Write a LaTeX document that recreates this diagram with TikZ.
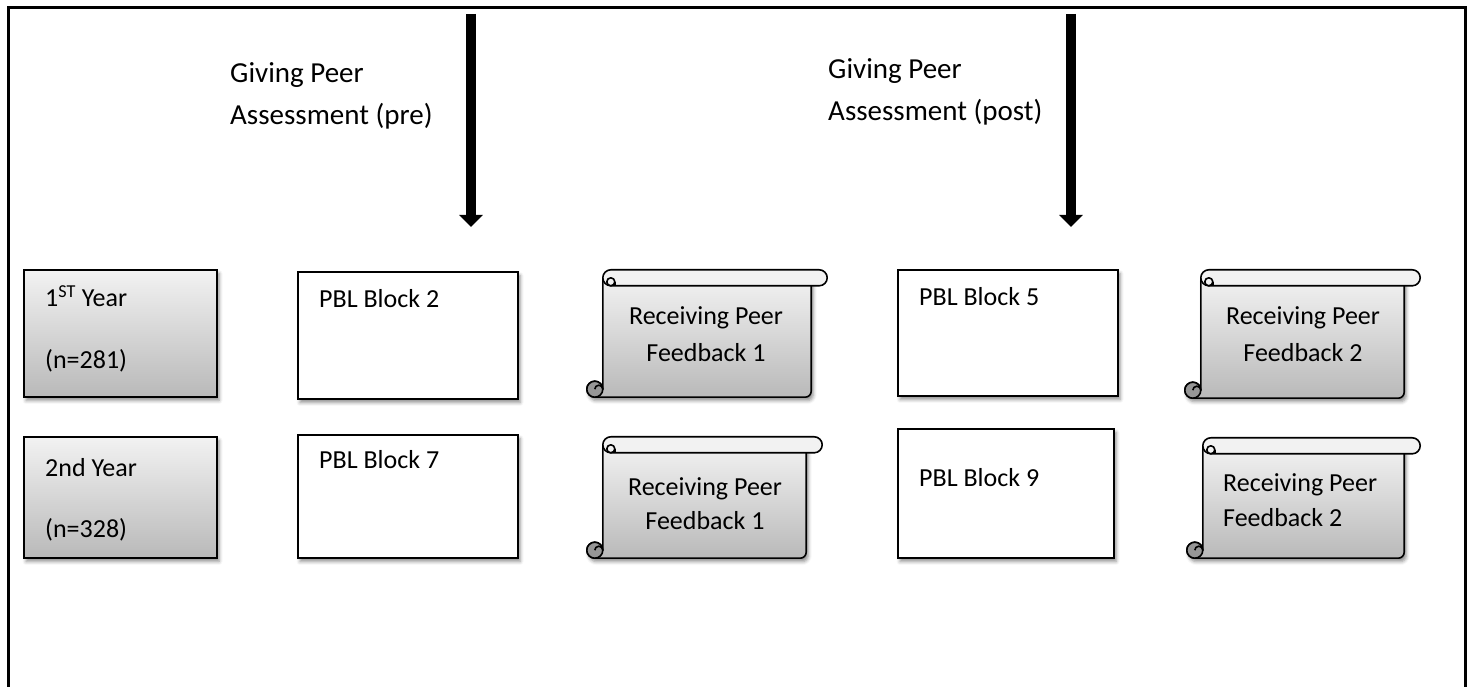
\documentclass[tikz,border=0pt]{standalone}
\usepackage{fontspec}
\setmainfont{Carlito}
\usetikzlibrary{arrows.meta,shadows.blur,calc}
\definecolor{gtop}{RGB}{242,242,242}
\definecolor{gbot}{RGB}{185,185,185}
\definecolor{curlc}{RGB}{150,150,150}
\tikzset{
  shad/.style={blur shadow={shadow xshift=2pt,shadow yshift=-3.5pt,shadow blur radius=3.5pt,shadow opacity=45}},
  box/.style={draw=black, line width=1.6pt, fill=white, shad, inner sep=0pt},
  graybox/.style={box, top color=gtop, bottom color=gbot},
  holder/.style={inner sep=0pt},
  scrollline/.style={draw=black, line width=1.6pt, line join=round},
  txt/.style={font=\fontsize{26}{38}\selectfont, inner sep=0pt},
  lbl/.style={font=\fontsize{29}{42}\selectfont, inner sep=0pt},
  bigarrow/.style={line width=10pt, -{Triangle[width=23pt,length=12pt]}},
  frameline/.style={line width=3pt},
}
\newcommand\scrollshape[1]{%
  \coordinate (#1-nw) at (#1.north west);
  \coordinate (#1-ne) at (#1.north east);
  \coordinate (#1-sw) at (#1.south west);
  \coordinate (#1-se) at (#1.south east);
  \draw[scrollline, top color=gtop, bottom color=gbot, shad]
    ($(#1-nw)+(16,-8)$) -- ($(#1-sw)+(16,8)$) arc[start angle=0,end angle=270,radius=8]
    -- ($(#1-se)+(-22,0)$) arc[start angle=270,end angle=360,radius=6]
    -- ($(#1-ne)+(-16,-8)$) -- cycle;
  \draw[scrollline, fill=gtop]
    ($(#1-nw)+(24,0)$) -- ($(#1-ne)+(-8,0)$) arc[start angle=90,end angle=-90,radius=8]
    -- ($(#1-nw)+(24,-16)$) arc[start angle=270,end angle=90,radius=8] -- cycle;
  \draw[scrollline, fill=gtop] ($(#1-nw)+(24,-12)$) circle[radius=4];
  \draw[scrollline] ($(#1-nw)+(28,-12)$) -- ($(#1-nw)+(28,-16)$);
  \draw[scrollline, fill=curlc] ($(#1-sw)+(8,8)$) circle[radius=8];
  \draw[scrollline] ($(#1-sw)+(16,8)$) arc[start angle=0,end angle=180,radius=4];
}
\begin{document}
\begin{tikzpicture}[x=1pt,y=1pt]
\useasboundingbox (0,0) rectangle (1474,687);
% frame
\draw[frameline] (8,-2) -- (8,679) -- (1465,679) -- (1465,-2);

% arrows
\coordinate (a1s) at (471,673); \coordinate (a1e) at (471,460);
\coordinate (a2s) at (1071,673); \coordinate (a2e) at (1071,460);
\draw[bigarrow] (a1s) -- (a1e);
\draw[bigarrow] (a2s) -- (a2e);

% labels
\node[lbl, anchor=base west] (l1a) at (230,604) {Giving Peer};
\node[lbl, anchor=base west] (l1b) at (230,562) {Assessment (pre)};
\node[lbl, anchor=base west] (l2a) at (828,608) {Giving Peer};
\node[lbl, anchor=base west] (l2b) at (828,566) {Assessment (post)};

% year boxes
\node[graybox, minimum width=193pt, minimum height=127pt] (y1) at (120.5,353.5) {};
\node[graybox, minimum width=193pt, minimum height=121pt] (y2) at (120.5,189.5) {};
\node[txt, anchor=base west] (y1a) at (45,380) {1\textsuperscript{ST} Year};
\node[txt, anchor=base west] (y1b) at (45,318) {(n=281)};
\node[txt, anchor=base west] (y2a) at (45,210) {2nd Year};
\node[txt, anchor=base west] (y2b) at (45,149) {(n=328)};

% PBL boxes
\node[box, minimum width=220pt, minimum height=127pt] (b2) at (408,351.5) {};
\node[box, minimum width=220pt, minimum height=123pt] (b7) at (408,190.5) {};
\node[box, minimum width=220pt, minimum height=126pt] (b5) at (1008,354) {};
\node[box, minimum width=216pt, minimum height=129pt] (b9) at (1006,193.5) {};
\node[txt, anchor=base west] (b2t) at (319,379) {PBL Block 2};
\node[txt, anchor=base west] (b7t) at (319,218) {PBL Block 7};
\node[txt, anchor=base west] (b5t) at (919,381) {PBL Block 5};
\node[txt, anchor=base west] (b9t) at (919,200) {PBL Block 9};

% scrolls
\node[holder, minimum width=240pt, minimum height=127pt] (s1) at (707,353.5) {};
\node[holder, minimum width=235pt, minimum height=121pt] (s2) at (704.5,189.5) {};
\node[holder, minimum width=235pt, minimum height=128pt] (s3) at (1302.5,353) {};
\node[holder, minimum width=233pt, minimum height=120pt] (s4) at (1303.5,189) {};
\scrollshape{s1}
\scrollshape{s2}
\scrollshape{s3}
\scrollshape{s4}
\node[txt, anchor=base] (s1a) at (706,362) {Receiving Peer};
\node[txt, anchor=base] (s1b) at (706,325) {Feedback 1};
\node[txt, anchor=base] (s2a) at (705,191) {Receiving Peer};
\node[txt, anchor=base] (s2b) at (705,157) {Feedback 1};
\node[txt, anchor=base] (s3a) at (1303,362) {Receiving Peer};
\node[txt, anchor=base] (s3b) at (1303,325) {Feedback 2};
\node[txt, anchor=base west] (s4a) at (1223,195) {Receiving Peer};
\node[txt, anchor=base west] (s4b) at (1223,160) {Feedback 2};
\end{tikzpicture}
\end{document}
